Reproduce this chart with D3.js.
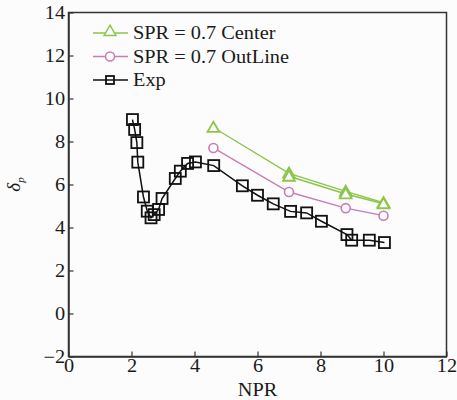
<!DOCTYPE html>
<html>
<head>
<meta charset="utf-8">
<script src="https://cdn.jsdelivr.net/npm/d3@7"></script>
<style>
  body { margin: 0; background: #fcfcfc; }
  text { font-family: "Times New Roman", "Liberation Serif", Times, serif; fill: #1a1a1a; }
</style>
</head>
<body>
<svg id="chart" width="457" height="400"></svg>
<script>
// data
var xTicks = [0, 2, 4, 6, 8, 10, 12];
var yTicks = [-2, 0, 2, 4, 6, 8, 10, 12, 14];

var centerNpr = [4.6, 7.0, 8.8, 10.0];
var centerVals = [8.65, 6.52, 5.68, 5.15];
// second green trace that makes the thick wedge between 7 and 10
var centerNpr2 = [7.0, 8.8, 10.0];
var centerVals2 = [6.38, 5.56, 5.1];

var outlineNpr = [4.6, 7.0, 8.8, 10.0];
var outlineVals = [7.7, 5.65, 4.9, 4.55];

var expNpr = [2.03, 2.1, 2.17, 2.2, 2.38, 2.5, 2.62, 2.72, 2.86, 2.97, 3.39, 3.55, 3.78, 4.03, 4.61, 5.52, 6.0, 6.5, 7.05, 7.56, 8.03, 8.84, 8.99, 9.55, 10.03];
var expVals = [9.02, 8.56, 7.95, 7.04, 5.42, 4.76, 4.45, 4.6, 4.84, 5.35, 6.28, 6.62, 6.98, 7.05, 6.88, 5.94, 5.5, 5.1, 4.75, 4.68, 4.29, 3.67, 3.41, 3.41, 3.3];

var green = "#8dc54b";
var pink = "#c77db6";
var black = "#111";
var serif = "'Times New Roman', 'Liberation Serif', Times, serif";
var stretch = "scale(1.13,1)";  // the original type is a bit wide

var svg = d3.select("#chart");
var plotL = 68.5, plotR = 446.5, plotT = 12.5, plotB = 356.5;

var x = d3.scaleLinear().domain([0, 12]).range([plotL, plotR]);
var y = d3.scaleLinear().domain([-2, 14]).range([plotB, plotT]);

// frame
svg.append("rect")
  .attr("x", plotL).attr("y", plotT)
  .attr("width", plotR - plotL).attr("height", plotB - plotT)
  .attr("fill", "none").attr("stroke", "#333").attr("stroke-width", 1.5);

var xAxis = svg.append("g")
  .attr("transform", "translate(0," + plotB + ")")
  .call(d3.axisBottom(x).tickValues(xTicks).tickSizeInner(-5).tickSizeOuter(0).tickPadding(3));
var yAxis = svg.append("g")
  .attr("transform", "translate(" + plotL + ",0)")
  .call(d3.axisLeft(y).tickValues(yTicks).tickSizeInner(-5).tickSizeOuter(0).tickPadding(3)
    .tickFormat(function(d){ return d < 0 ? "\u2212" + Math.abs(d) : d; }));

[xAxis, yAxis].forEach(function(a){
  a.attr("font-family", serif).attr("font-size", 18);
  a.select(".domain").attr("stroke", "#333").attr("stroke-width", 1.5);
  a.selectAll(".tick line").attr("stroke", "#333").attr("stroke-width", 1.2);
  a.selectAll(".tick text").attr("fill", "#1a1a1a").attr("transform", stretch);
});

// axis titles
svg.append("text")
  .attr("transform", "translate(" + x(6) + ",396) " + stretch)
  .attr("text-anchor", "middle").style("font-size", "18px")
  .text("NPR");

var yl = svg.append("text")
  .attr("transform", "translate(20," + y(6) + ") rotate(-90)")
  .attr("text-anchor", "middle").style("font-size", "19px");
yl.append("tspan").style("font-style", "italic").text("\u03b4");
yl.append("tspan").attr("dy", 4).style("font-size", "11px").style("font-style", "italic").text("p");

var line = d3.line().x(function(d){ return x(d[0]); }).y(function(d){ return y(d[1]); });

function drawLine(xs, ys, color, width) {
  var pts = d3.zip(xs, ys);
  svg.append("path").datum(pts)
    .attr("d", line).attr("fill", "none")
    .attr("stroke", color).attr("stroke-width", width);
  return pts;
}

var tri = d3.symbol().type(d3.symbolTriangle).size(60);

function drawMarkers(pts, kind, color) {
  var g = svg.append("g");
  pts.forEach(function(p){
    var cx = x(p[0]), cy = y(p[1]);
    if (kind == "square") {
      g.append("rect").attr("x", cx - 5.5).attr("y", cy - 5.5)
        .attr("width", 11).attr("height", 11)
        .attr("fill", "none").attr("stroke", color).attr("stroke-width", 1.8);
    } else if (kind == "circle") {
      g.append("circle").attr("cx", cx).attr("cy", cy).attr("r", 4.5)
        .attr("fill", "#fcfcfc").attr("stroke", color).attr("stroke-width", 1.6);
    } else {
      g.append("path").attr("d", tri)
        .attr("transform", "translate(" + cx + "," + (cy + 1) + ")")
        .attr("fill", "#fcfcfc").attr("stroke", color).attr("stroke-width", 1.8);
    }
  });
}

drawLine(centerNpr2, centerVals2, green, 1.6);
var cPts = drawLine(centerNpr, centerVals, green, 1.4);
var oPts = drawLine(outlineNpr, outlineVals, pink, 1.4);
var ePts = drawLine(expNpr, expVals, black, 1.5);

drawMarkers(cPts, "tri", green);
drawMarkers(d3.zip(centerNpr2, centerVals2), "tri", green);
drawMarkers(oPts, "circle", pink);
drawMarkers(ePts, "square", black);

// legend
var legend = [
  { name: "SPR = 0.7 Center", color: green, kind: "tri" },
  { name: "SPR = 0.7 OutLine", color: pink, kind: "circle" },
  { name: "Exp", color: black, kind: "square" }
];
legend.forEach(function(d, i){
  var ly = 33 + i * 23.5;
  svg.append("line").attr("x1", 93).attr("x2", 128).attr("y1", ly).attr("y2", ly)
    .attr("stroke", d.color).attr("stroke-width", 1.5);
  var g = svg.append("g");
  if (d.kind == "square") {
    g.append("rect").attr("x", 106).attr("y", ly - 4).attr("width", 8).attr("height", 8)
      .attr("fill", "none").attr("stroke", d.color).attr("stroke-width", 1.8);
  } else if (d.kind == "circle") {
    g.append("circle").attr("cx", 110).attr("cy", ly).attr("r", 4.5)
      .attr("fill", "#fcfcfc").attr("stroke", d.color).attr("stroke-width", 1.5);
  } else {
    g.append("path").attr("d", tri).attr("transform", "translate(110," + (ly - 1) + ")")
      .attr("fill", "#fcfcfc").attr("stroke", d.color).attr("stroke-width", 1.5);
  }
  svg.append("text").attr("transform", "translate(133," + (ly + 6) + ") " + stretch)
    .style("font-size", "18px").text(d.name);
});
</script>
</body>
</html>
